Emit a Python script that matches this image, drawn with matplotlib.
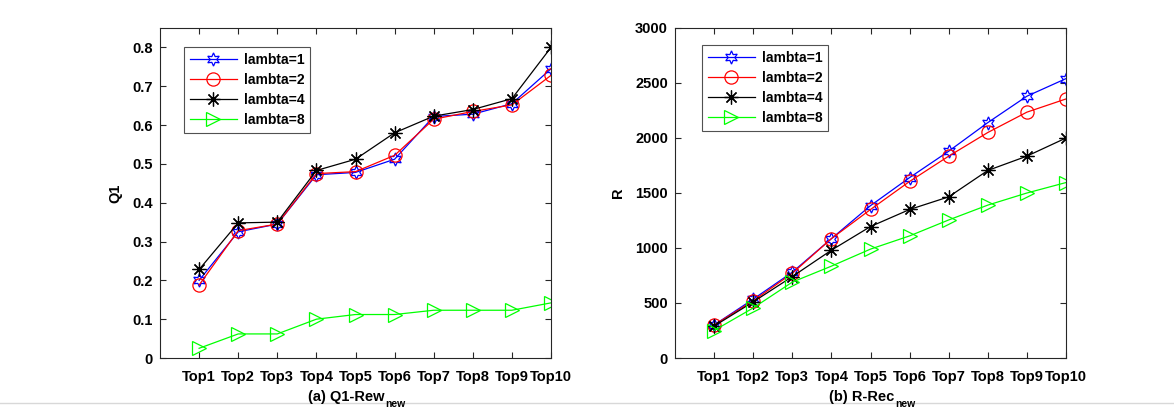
import matplotlib
matplotlib.use("Agg")
import matplotlib.pyplot as plt
from matplotlib.lines import Line2D
import numpy as np

plt.rcParams['font.family'] = ['Liberation Sans', 'DejaVu Sans']

categories = ['Top1', 'Top2', 'Top3', 'Top4', 'Top5', 'Top6', 'Top7', 'Top8', 'Top9', 'Top10']
series_names = ['lambta=1', 'lambta=2', 'lambta=4', 'lambta=8']

q1_l1 = [0.200, 0.325, 0.345, 0.472, 0.478, 0.512, 0.622, 0.628, 0.655, 0.745]
q1_l2 = [0.188, 0.328, 0.345, 0.475, 0.480, 0.522, 0.615, 0.635, 0.652, 0.728]
q1_l4 = [0.228, 0.348, 0.350, 0.483, 0.512, 0.580, 0.623, 0.640, 0.668, 0.800]
q1_l8 = [0.025, 0.062, 0.062, 0.100, 0.112, 0.112, 0.123, 0.123, 0.123, 0.142]

r_l1 = [300, 535, 780, 1085, 1385, 1640, 1880, 2140, 2380, 2540]
r_l2 = [300, 520, 770, 1085, 1350, 1605, 1835, 2050, 2235, 2355]
r_l4 = [290, 510, 740, 980, 1195, 1350, 1465, 1705, 1835, 2000]
r_l8 = [250, 455, 690, 835, 990, 1110, 1255, 1390, 1500, 1595]

colors = ['#0000ff', '#ff0000', '#000000', '#00ff00']
markers = [(6, 1, 0), 'o', (8, 2, 0), '>']
msizes = [9.5, 9.5, 10, 10.5]

fig = plt.figure(figsize=(11.74, 4.07), dpi=100)
ax1 = fig.add_axes([160/1174, 1-358/407, 391/1174, 330/407])
ax2 = fig.add_axes([675/1174, 1-358/407, 391/1174, 330/407])

x = np.arange(1, len(categories) + 1)

def draw(ax, data, ylim, yticks, yticklabels, ylabel, xmain, xsub, legend_anchor):
    for d, c, m, ms, name in zip(data, colors, markers, msizes, series_names):
        ax.plot(x, d, color=c, marker=m, markersize=ms, markerfacecolor='none',
                markeredgecolor=c, markeredgewidth=0.9, linewidth=0.9, label=name)
    ax.set_xlim(0, 10)
    ax.set_ylim(*ylim)
    ax.set_xticks(x)
    ax.set_xticklabels(categories, fontsize=10.5, fontweight='bold')
    ax.set_yticks(yticks)
    ax.set_yticklabels(yticklabels, fontsize=10.5, fontweight='bold')
    ax.tick_params(direction='in', top=True, right=True, length=4, width=0.8,
                   color='#262626')
    ax.tick_params(axis='x', pad=9)
    ax.tick_params(axis='y', pad=5)
    for s in ax.spines.values():
        s.set_color('#262626')
        s.set_linewidth(0.8)
    ax.set_ylabel(ylabel, fontsize=10.5, fontweight='bold', labelpad=7)
    t = ax.annotate(xmain, xy=(0.5, 0), xycoords='axes fraction',
                    xytext=(-9, -43), textcoords='offset pixels',
                    ha='center', va='baseline', fontsize=10.5, fontweight='bold',
                    annotation_clip=False)
    ax.annotate(xsub, xy=(1, 0), xycoords=t, xytext=(1, -3),
                textcoords='offset pixels', ha='left', va='baseline',
                fontsize=7.5, fontweight='bold', annotation_clip=False)
    leg = ax.legend(loc='upper left', bbox_to_anchor=legend_anchor,
                    prop={'size': 10, 'weight': 'bold'}, frameon=True, fancybox=False,
                    edgecolor='#262626', handlelength=3.4, handletextpad=0.5,
                    labelspacing=0.45, borderpad=0.4, borderaxespad=0)
    leg.get_frame().set_linewidth(0.8)

draw(ax1, [q1_l1, q1_l2, q1_l4, q1_l8], (0, 0.85),
     [0, 0.1, 0.2, 0.3, 0.4, 0.5, 0.6, 0.7, 0.8],
     ['0', '0.1', '0.2', '0.3', '0.4', '0.5', '0.6', '0.7', '0.8'],
     'Q1', '(a) Q1-Rew', 'new', (24/391, 1-19/330))
draw(ax2, [r_l1, r_l2, r_l4, r_l8], (0, 3000),
     [0, 500, 1000, 1500, 2000, 2500, 3000],
     ['0', '500', '1000', '1500', '2000', '2500', '3000'],
     'R', '(b) R-Rec', 'new', (27/391, 1-17/330))

fig.add_artist(Line2D([0, 1], [1-403/407, 1-403/407], color='#d8d8d8', linewidth=1.0,
                      transform=fig.transFigure, zorder=0))

fig.savefig('out.png', dpi=100)
